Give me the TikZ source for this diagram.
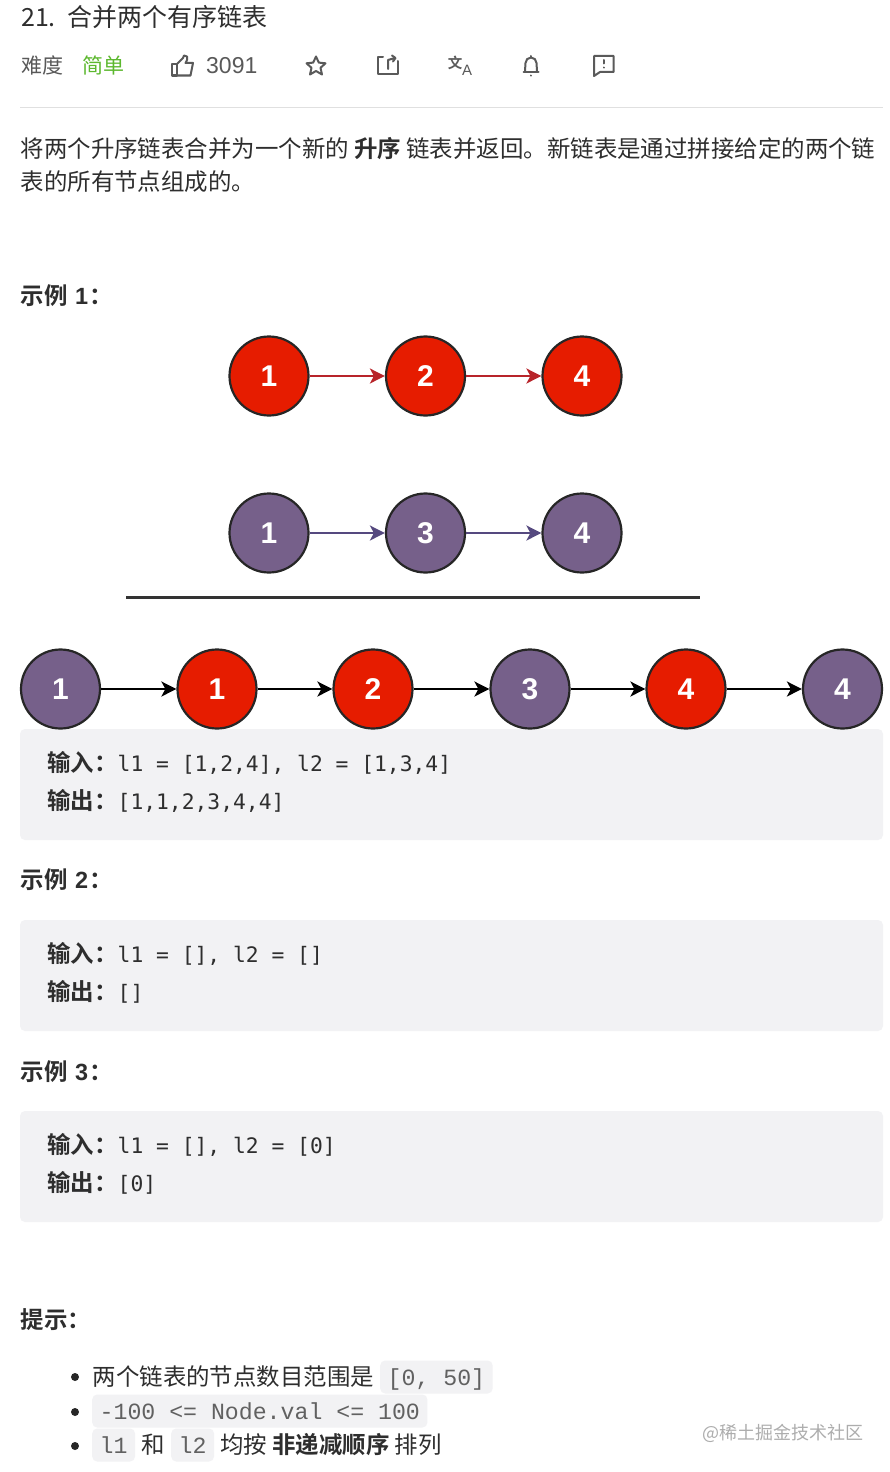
\documentclass[tikz,border=0pt]{standalone}
\usepackage{fontspec}
\setmainfont{Noto Sans CJK SC}[BoldFont={Noto Sans CJK SC Bold}]
\newfontfamily\codefont{DejaVu Sans Mono}
\newfontfamily\listfont{Liberation Mono}
\newfontfamily\digitfont{Liberation Sans}
\usepackage{xcolor}
\usepackage{tikz}
\usetikzlibrary{arrows.meta}

\definecolor{redfill}{HTML}{E61C00}
\definecolor{purplefill}{HTML}{76608A}
\definecolor{boxgray}{HTML}{F2F2F4}
\definecolor{icongray}{HTML}{5A5A5A}
\definecolor{bodygray}{HTML}{2E2E2E}
\definecolor{easygreen}{HTML}{5CB82E}
\definecolor{redline}{HTML}{B8242A}
\definecolor{purpleline}{HTML}{55497F}

\newcommand{\fs}[1]{\fontsize{#1}{#1}\selectfont}

\tikzset{
	listnode/.style={circle, draw=black!85, line width=2.2pt, minimum size=79pt, inner sep=0pt, text=white, font=\digitfont\bfseries\fs{30}},
	rednode/.style={listnode, fill=redfill},
	purplenode/.style={listnode, fill=purplefill},
	linktip/.style={-{Stealth[length=15pt, width=15pt, inset=4pt]}, line width=2pt},
	redlink/.style={linktip, color=redline},
	purplelink/.style={linktip, color=purpleline},
	blacklink/.style={linktip, color=black},
	txt/.style={anchor=base west, inner sep=0pt, text=bodygray, font=\fs{23.45}},
	codetxt/.style={anchor=base west, inner sep=0pt, text=bodygray, font=\codefont\fs{21.3}},
	codebox/.style={fill=boxgray, rounded corners=5pt},
	chip/.style={anchor=base west, fill=boxgray, rounded corners=5pt, inner xsep=7.5pt, inner ysep=3pt, text height=22pt, text depth=5pt, text=black!62, font=\listfont\fs{23.2}},
	icon/.style={draw=icongray, line width=2pt, line join=round, line cap=round}
}

\begin{document}
\begin{tikzpicture}[x=1pt, y=-1pt]

\useasboundingbox (0,0) rectangle (890,1472);
\fill[white] (0,0) rectangle (890,1472);

\node[txt, font=\fs{25}] (titlenum) at (21,26.5) {21.};
\node[txt, font=\fs{25}] (title) at (67,26.5) {合并两个有序链表};
\node[txt, font=\fs{21}, text=black!65] (level) at (21,73.5) {难度};
\node[txt, font=\fs{21}, text=easygreen] (easy) at (82,73.5) {简单};
\node[txt, font=\digitfont\fs{23}, text=black!65] (likes) at (206,73.5) {3091};

% icons of the toolbar
\draw[icon] (172,64) rectangle (177,75.5);
\draw[icon] (177,64) -- (183,58) -- (184,55.5) -- (187,56.5) -- (187,60) -- (185.5,63) -- (193,63) -- (190.5,75.5) -- (177,75.5);
\draw[icon] (316,56.5) -- (318.8,62.6) -- (325.5,63.3) -- (320.5,67.8) -- (322,74.5) -- (316,71) -- (310,74.5) -- (311.5,67.8) -- (306.5,63.3) -- (313.2,62.6) -- cycle;
\draw[icon] (383,57.5) -- (377.5,57.5) -- (377.5,74) -- (397.5,74) -- (397.5,61);
\draw[icon] (388,69) -- (388,60) -- (395,58);
\draw[icon] (392,55.5) -- (395.5,58) -- (393,61.5);
\node[inner sep=0pt, text=icongray, font=\bfseries\fs{14.5}] (transzh) at (455,63) {文};
\node[inner sep=0pt, text=icongray, font=\digitfont\fs{15}] (transen) at (467.2,70) {A};
\draw[icon] (525,71) -- (525.5,63) arc (180:360:5.5) -- (537,71);
\draw[icon] (523.5,72) -- (538.5,72);
\draw[icon] (531,56) -- (531,57);
\draw[icon] (531,75.5) -- (531,75.6);
\draw[icon] (594,56) -- (613.5,56) -- (613.5,72) -- (600,72) -- (594,76) -- cycle;
\draw[icon] (603.5,60) -- (603.5,63.5);
\draw[icon] (603.5,67.5) -- (603.5,67.6);

\draw[color=black!12, line width=1pt] (20,107.5) -- (883,107.5);

\node[txt] (desca) at (20.5,157.5) {将两个升序链表合并为一个新的 \textbf{升序} 链表并返回。新链表是通过拼接给定的两个链};
\node[txt] (descb) at (20.5,190.5) {表的所有节点组成的。};

\node[txt] (exa) at (20.5,304) {\textbf{示例}};
\node[txt] (exanum) at (75,304) {\digitfont\textbf{1}\hspace{1pt}\normalfont\textbf{：}};

% two lists and the merged one
\foreach \x/\v/\n in {269/1/a,425.5/2/b,582/4/c}{
	\node[rednode] (r\n) at (\x,376) {\v};
}
\foreach \x/\v/\n in {269/1/a,425.5/3/b,582/4/c}{
	\node[purplenode] (p\n) at (\x,533) {\v};
}
\draw[redlink] (ra) -- (rb);
\draw[redlink] (rb) -- (rc);
\draw[purplelink] (pa) -- (pb);
\draw[purplelink] (pb) -- (pc);

\coordinate (rulea) at (126,597.5);
\coordinate (ruleb) at (700,597.5);
\draw[color=black!80, line width=2.2pt] (rulea) -- (ruleb);

\fill[codebox] (20,729) rectangle (883,840);
\fill[codebox] (20,920) rectangle (883,1031);
\fill[codebox] (20,1111) rectangle (883,1222);

\node[purplenode] (ma) at (60.5,689) {1};
\node[rednode] (mb) at (217,689) {1};
\node[rednode] (mc) at (373,689) {2};
\node[purplenode] (md) at (530,689) {3};
\node[rednode] (me) at (686,689) {4};
\node[purplenode] (mf) at (842.5,689) {4};
\foreach \a/\b in {ma/mb,mb/mc,mc/md,md/me,me/mf}{
	\draw[blacklink] (\a) -- (\b);
}

\node[txt] (ina) at (47,771.5) {\textbf{输入：}};
\node[codetxt] (inacode) at (117.5,771) {l1 = [1,2,4], l2 = [1,3,4]};
\node[txt] (outa) at (47,809.5) {\textbf{输出：}};
\node[codetxt] (outacode) at (117.5,809) {[1,1,2,3,4,4]};

\node[txt] (exb) at (20.5,888) {\textbf{示例}};
\node[txt] (exbnum) at (75,888) {\digitfont\textbf{2}\hspace{1pt}\normalfont\textbf{：}};
\node[txt] (inb) at (47,962.5) {\textbf{输入：}};
\node[codetxt] (inbcode) at (117.5,962) {l1 = [], l2 = []};
\node[txt] (outb) at (47,1000.5) {\textbf{输出：}};
\node[codetxt] (outbcode) at (117.5,1000) {[]};

\node[txt] (exc) at (20.5,1080) {\textbf{示例}};
\node[txt] (excnum) at (75,1080) {\digitfont\textbf{3}\hspace{1pt}\normalfont\textbf{：}};
\node[txt] (inc) at (47,1153.5) {\textbf{输入：}};
\node[codetxt] (inccode) at (117.5,1153) {l1 = [], l2 = [0]};
\node[txt] (outc) at (47,1191.5) {\textbf{输出：}};
\node[codetxt] (outccode) at (117.5,1191) {[0]};

\node[txt] (hint) at (20.5,1328) {\textbf{提示：}};

\foreach \y in {1377,1412,1446}{
	\fill[color=black!85] (75,\y) circle (4);
}
\node[txt] (lia) at (92.5,1385.5) {两个链表的节点数目范围是};
\node[chip] (chipa) at (380,1385.5) {[0, 50]};
\node[chip] (chipb) at (92,1419.5) {-100 <= Node.val <= 100};
\node[chip] (chipc) at (92,1453.5) {l1};
\node[txt] (lic) at (141.5,1453.5) {和};
\node[chip] (chipd) at (171,1453.5) {l2};
\node[txt] (lid) at (220,1453.5) {均按 \textbf{非递减顺序} 排列};

\node[txt, font=\fs{18}, text=black!32] (mark) at (702,1439.5) {@稀土掘金技术社区};

\end{tikzpicture}
\end{document}
